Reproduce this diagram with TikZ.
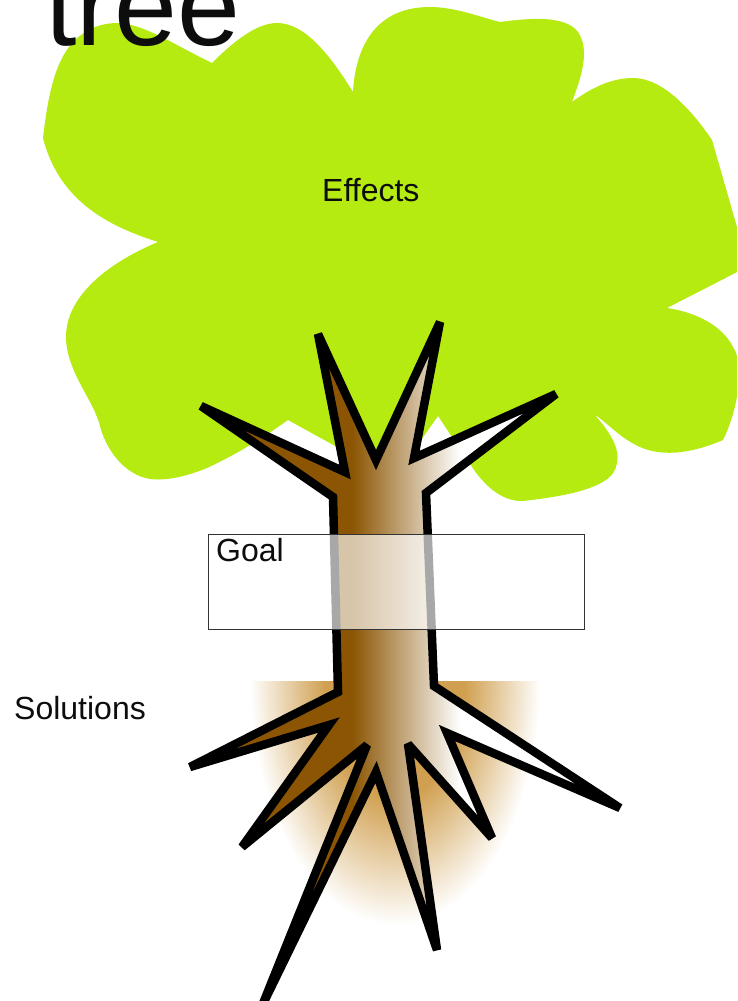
\documentclass[tikz,border=0pt]{standalone}
\usepackage{fontspec}
\setmainfont{Liberation Sans}
\definecolor{leaf}{HTML}{B5EB10}
\definecolor{bark}{HTML}{8B5503}
\definecolor{soil}{HTML}{D0A050}
\definecolor{ink}{HTML}{0D0D0D}
\definecolor{boxline}{HTML}{333333}
\pgfdeclareradialshading{groundglow}{\pgfpoint{0bp}{0bp}}{color(0bp)=(soil); color(12bp)=(soil); color(25bp)=(white); color(50bp)=(white)}
\tikzset{
  label text/.style={inner sep=0pt,text=ink,font=\fontsize{32}{32}\selectfont,anchor=base west},
  trunkline/.style={draw=black,line width=8.5pt,line join=miter,miter limit=3.2}
}
\def\trunkpath{(201,406) -- (333,497) -- (338,692) -- (190,767) -- (329,725) -- (242,847) -- (367,745) -- (262,1006) -- (376,772) -- (437,950) -- (408,744) -- (492,838) -- (447,733) -- (620,808) -- (434,686) -- (426,493) -- (556,394) -- (414,458) -- (440,322) -- (376,460) -- (318,334) -- (345,472) -- cycle}
\begin{document}
\begin{tikzpicture}[x=1pt,y=-1pt]
\useasboundingbox (0,0) rectangle (737,1001);
\clip (0,0) rectangle (737,1001);
\fill[white] (0,0) rectangle (737,1001);
% canopy
\fill[leaf] (43,138) .. controls (48,95) and (55,60) .. (75,40)
  .. controls (90,26) and (105,23) .. (118,23)
  .. controls (145,24) and (180,48) .. (212,63)
  .. controls (230,45) and (255,23) .. (277,23)
  .. controls (305,23) and (330,55) .. (353,92)
  .. controls (355,55) and (370,7) .. (430,7)
  .. controls (455,7) and (480,17) .. (500,22)
  .. controls (530,18) and (565,15) .. (578,32)
  .. controls (590,50) and (582,75) .. (572,102)
  .. controls (595,85) and (615,78) .. (633,78)
  .. controls (665,78) and (695,115) .. (712,140)
  -- (745,255) -- (745,268) -- (667,308)
  .. controls (695,312) and (722,325) .. (733,347)
  .. controls (745,365) and (738,410) .. (723,440)
  .. controls (695,452) and (665,458) .. (640,447)
  .. controls (620,438) and (610,425) .. (594,414)
  .. controls (610,432) and (620,448) .. (617,463)
  .. controls (615,478) and (600,486) .. (573,493)
  .. controls (555,497) and (540,499) .. (523,501)
  .. controls (500,502) and (482,482) .. (472,467)
  -- (438,416) -- (400,470) -- (337,447) -- (288,420)
  .. controls (260,440) and (235,455) .. (207,468)
  .. controls (185,477) and (165,481) .. (150,479)
  .. controls (125,475) and (105,450) .. (99,422)
  -- (95,412)
  .. controls (85,390) and (66,365) .. (66,337)
  .. controls (66,295) and (110,262) .. (158,242)
  .. controls (115,228) and (60,205) .. (43,138) -- cycle;
% ground glow
\begin{scope}
  \clip (240,681) rectangle (550,940);
  \path[shading=groundglow] (250,435) rectangle (540,925);
\end{scope}
% trunk
\begin{scope}
  \clip \trunkpath;
  \fill[bark] (150,300) rectangle (352,1010);
  \fill[white] (460,300) rectangle (640,1010);
  \shade[left color=bark,right color=white,shading angle=90,draw=none] (352,300) rectangle (460,1010);
\end{scope}
\draw[trunkline] \trunkpath;
% goal box
\node[draw=boxline,line width=1pt,fill=white,fill opacity=.66,draw opacity=1,minimum width=376pt,minimum height=95pt,inner sep=0pt,anchor=north west] (goalbox) at (208,534) {};
% labels
\node[label text] (goal) at (216,561.5) {Goal};
\node[label text] (effects) at (322,201) {Effects};
\node[label text] (solutions) at (14,719) {Solutions};
\node[inner sep=0pt,text=ink,font=\fontsize{113}{113}\selectfont,anchor=base west] (title) at (45,45) {tree};
\end{tikzpicture}
\end{document}
